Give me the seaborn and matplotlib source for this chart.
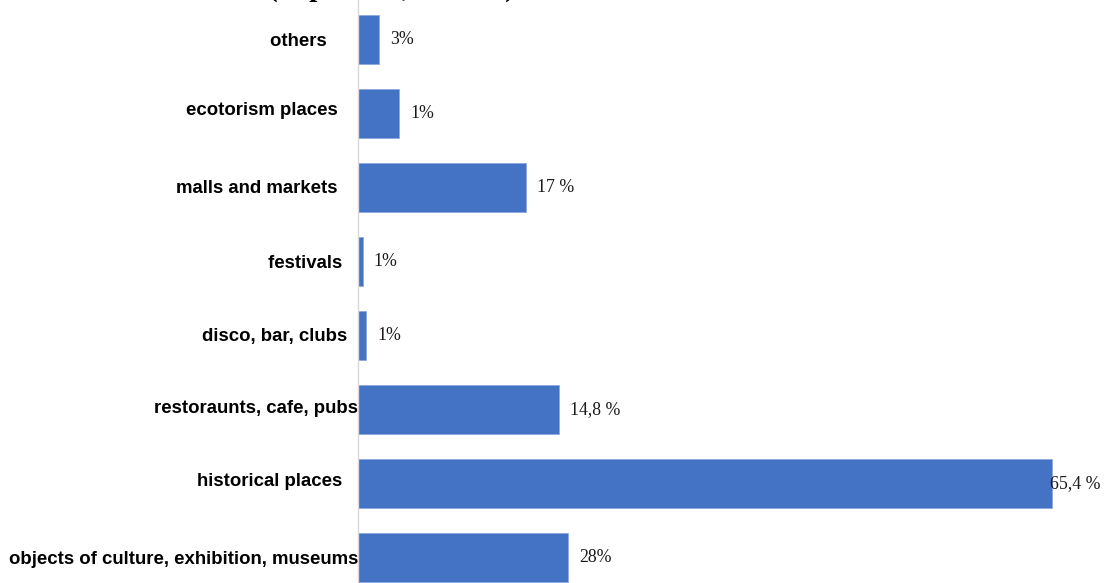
import pandas as pd
import matplotlib.pyplot as plt
import matplotlib.transforms as mtransforms
import seaborn as sns

# categories top to bottom, as in the picture
categories = ['others', 'ecotorism places', 'malls and markets', 'festivals',
              'disco, bar, clubs', 'restoraunts, cafe, pubs', 'historical places',
              'objects of culture, exhibition, museums']
# trailing spaces reproduce the uneven label alignment of the source chart
tick_labels = ['others      ', 'ecotorism places    ', 'malls and markets    ',
               'festivals   ', 'disco, bar, clubs  ', 'restoraunts, cafe, pubs',
               'historical places   ', 'objects of culture, exhibition, museums']
# bar lengths as drawn (the typed labels do not match them)
bar_values = [2.0, 3.9, 15.8, 0.45, 0.8, 18.9, 65.4, 19.8]
value_labels = ['3%', '1%', '17 %', '1%', '1%', '14,8 %', '65,4 %', '28%']

df = pd.DataFrame({'place': categories, 'share': bar_values})

sns.set_style('white')
fig = plt.figure(figsize=(11.04, 5.83), dpi=100)
ax = fig.add_axes([358 / 1104, 0, 1 - 358 / 1104, 1])

sns.barplot(data=df, x='share', y='place', orient='h', color='#4472C4',
            saturation=1, width=0.65, edgecolor='#8FAADC', linewidth=0.6, ax=ax)

ax.set_xlim(0, 65.4 * (1104 - 358) / 694)
ax.set_ylim(7.345, -0.534)
ax.set_xlabel('')
ax.set_ylabel('')
ax.set_xticks([])
ax.set_yticks(range(len(categories)))
ax.set_yticklabels(tick_labels, fontfamily='Liberation Sans', fontweight='bold',
                   fontsize=13.4, color='black')
ax.tick_params(axis='y', length=0, pad=0)

# small upward nudges of some labels, as in the source
nudge_px = [0, 5, 1, 0, 1, 3, 4, 0]
for lab, dy in zip(ax.get_yticklabels(), nudge_px):
    lab.set_transform(lab.get_transform() +
                      mtransforms.ScaledTranslation(0, dy / 100, fig.dpi_scale_trans))

for side in ['top', 'right', 'bottom']:
    ax.spines[side].set_visible(False)
ax.spines['left'].set_color('#D9D9D9')
ax.spines['left'].set_linewidth(1)

# value labels next to each bar
for i, (v, lab) in enumerate(zip(bar_values, value_labels)):
    dx = -1.5 if v == max(bar_values) else 8
    ax.annotate(lab, xy=(v, i), xytext=(dx, 0), textcoords='offset points',
                ha='left', va='center', fontfamily='Liberation Serif',
                fontsize=12.8, color='#1A1A1A', annotation_clip=False)

# title of the original figure, cut off at the top edge
fig.text(268 / 1104, 1 + 4 / 583, '(in percent, of total)', ha='left',
         va='baseline', fontfamily='Liberation Serif', fontweight='bold',
         fontsize=21, color='black')

fig.savefig('out.png', dpi=100)
